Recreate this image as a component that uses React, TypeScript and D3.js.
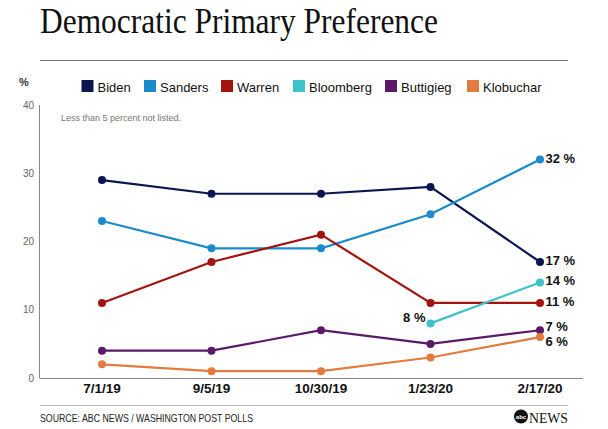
import React from "react";
import * as d3 from "d3";

const dates = ["7/1/19", "9/5/19", "10/30/19", "1/23/20", "2/17/20"];
const yTicks = [0, 10, 20, 30, 40];
const biden = [29, 27, 27, 28, 17];
const sanders = [23, 19, 19, 24, 32];
const warren = [11, 17, 21, 11, 11];
const bloomberg: (number | null)[] = [null, null, null, 8, 14];
const buttigieg = [4, 4, 7, 5, 7];
const klobuchar = [2, 1, 1, 3, 6];
const names = ["Biden", "Sanders", "Warren", "Bloomberg", "Buttigieg", "Klobuchar"];
const colors = ["#0b1650", "#1b8bcb", "#a3140e", "#3ec2c9", "#5a1a68", "#e27b3d"];
const seriesValues = [biden, sanders, warren, bloomberg, buttigieg, klobuchar];
const legendTextX = [97.5, 160, 237, 309, 401, 483];
const labelShift = [3, 3, 3.5, 3, 1, 9];

export default function App() {
  const x = d3.scalePoint<string>().domain(dates).range([102, 540]);
  const y = d3.scaleLinear().domain([0, 40]).range([378, 105]);
  const line = d3
    .line<number | null>()
    .defined((d) => d != null)
    .x((_, i) => x(dates[i]) as number)
    .y((d) => y(d as number));
  const sans = "Helvetica, Arial, 'Liberation Sans', sans-serif";
  return (
    <svg width={608} height={429} style={{ position: "absolute", left: 0, top: 0, background: "#fff" }}>
      <rect width={608} height={429} fill="#fff" />
      <text x={40} y={33} fontFamily="'Liberation Serif', 'Times New Roman', serif" fontSize={35} fill="#111" textLength={398} lengthAdjust="spacingAndGlyphs">
        Democratic Primary Preference
      </text>
      <line x1={40} x2={568} y1={60.5} y2={60.5} stroke="#777" strokeWidth={1} />
      <text x={19} y={86} fontFamily={sans} fontSize={11} fontWeight="bold" fill="#333">%</text>
      {names.map((n, i) => (
        <g key={n}>
          <rect x={legendTextX[i] - 16} y={80} width={12} height={12} fill={colors[i]} />
          <text x={legendTextX[i]} y={92} fontFamily={sans} fontSize={13} fill="#111">{n}</text>
        </g>
      ))}
      <line x1={39.5} x2={39.5} y1={y(40)} y2={y(0)} stroke="#888" strokeWidth={1} />
      <line x1={39.5} x2={583} y1={y(0) + 0.5} y2={y(0) + 0.5} stroke="#888" strokeWidth={1} />
      {yTicks.map((t) => (
        <text key={t} x={34} y={y(t) + 3.5} textAnchor="end" fontFamily={sans} fontSize={10} fill="#666">{t}</text>
      ))}
      <text x={61} y={121} fontFamily={sans} fontSize={9} fill="#777">Less than 5 percent not listed.</text>
      {dates.map((d) => (
        <text key={d} x={x(d)} y={393} textAnchor="middle" fontFamily={sans} fontSize={13.5} fontWeight="bold" fill="#111">{d}</text>
      ))}
      {seriesValues.map((vals, i) => (
        <g key={names[i]}>
          <path d={line(vals) || ""} fill="none" stroke={colors[i]} strokeWidth={2.2} />
          {vals.map((v, j) =>
            v == null ? null : <circle key={j} cx={x(dates[j])} cy={y(v)} r={4} fill={colors[i]} />
          )}
        </g>
      ))}
      {seriesValues.map((vals, i) => {
        const v = vals[vals.length - 1] as number;
        return (
          <text key={names[i]} x={x(dates[4])! + 5.5} y={y(v) + labelShift[i]} fontFamily={sans} fontSize={13} fontWeight="bold" fill="#111">
            {v} %
          </text>
        );
      })}
      <text x={x(dates[3])! - 5} y={y(8) - 1.5} textAnchor="end" fontFamily={sans} fontSize={13} fontWeight="bold" fill="#111">8 %</text>
      <line x1={40} x2={568} y1={405.5} y2={405.5} stroke="#bbb" strokeWidth={1} />
      <text x={40} y={422} fontFamily={sans} fontSize={10.5} fill="#222" textLength={213} lengthAdjust="spacingAndGlyphs">
        SOURCE: ABC NEWS / WASHINGTON POST POLLS
      </text>
      <circle cx={521} cy={416.5} r={7} fill="#111" />
      <text x={521} y={419} textAnchor="middle" fontFamily={sans} fontSize={6} fontWeight="bold" fill="#fff">abc</text>
      <text x={529} y={422.5} fontFamily="'Liberation Serif', serif" fontSize={15} fill="#111" textLength={39} lengthAdjust="spacingAndGlyphs">NEWS</text>
    </svg>
  );
}
